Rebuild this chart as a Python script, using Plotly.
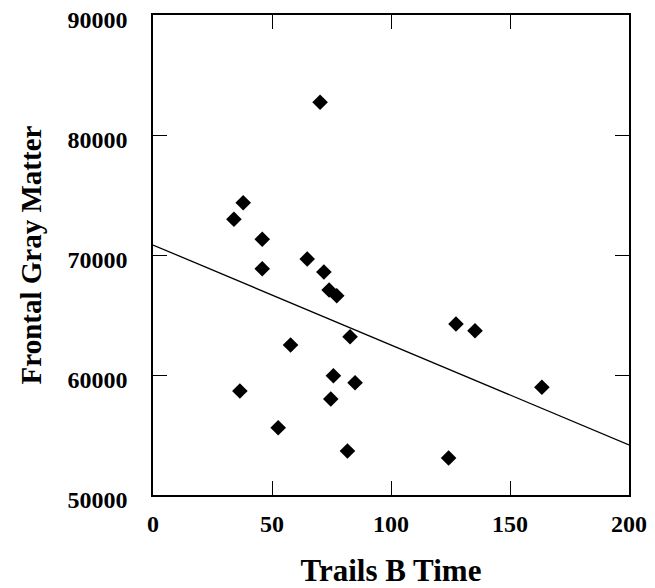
import plotly.graph_objects as go

trails_b_time = [70.2, 37.9, 34.0, 45.9, 64.8, 45.9, 71.8, 74.0, 77.2, 82.8, 57.8,
                 75.8, 84.9, 36.5, 74.7, 52.6, 81.7, 127.3, 135.3, 163.4, 124.2]
frontal_gray = [82725, 74358, 72975, 71308, 69667, 68850, 68580, 67083, 66608, 63192, 62500,
                59942, 59358, 58667, 58000, 55608, 53667, 64250, 63692, 58975, 53083]

fit_x = [0, 200]
fit_intercept = 70833
fit_slope = -83.3

x_ticks = [0, 50, 100, 150, 200]
y_ticks = [50000, 60000, 70000, 80000, 90000]

font_family = "Liberation Serif, Times New Roman, serif"

fig = go.Figure()
fig.add_trace(go.Scatter(
    x=fit_x, y=[fit_intercept + fit_slope * v for v in fit_x],
    mode="lines", line=dict(color="black", width=1.3), showlegend=False,
    cliponaxis=False,
))
fig.add_trace(go.Scatter(
    x=trails_b_time, y=frontal_gray, mode="markers",
    marker=dict(symbol="diamond", color="black", size=12, line=dict(width=0)),
    showlegend=False,
))

axis_common = dict(
    showgrid=False, zeroline=False, showline=True, linecolor="black", linewidth=1.5,
    mirror="ticks", ticks="inside", ticklen=14, tickwidth=1.3, tickcolor="black",
    automargin=False, ticklabeloverflow="allow",
    tickfont=dict(family=font_family, size=24, color="black", weight="bold"),
)
fig.update_xaxes(range=[0, 200], tickvals=x_ticks, ticktext=[str(v) for v in x_ticks],
                 ticklabelstandoff=6,
                 title=dict(text="<b>Trails B Time</b>", standoff=39,
                            font=dict(family=font_family, size=31, color="black")),
                 **axis_common)
fig.update_yaxes(range=[50000, 90000], tickvals=y_ticks, ticktext=[str(v) for v in y_ticks],
                 ticklabelstandoff=19, ticklabelshift=5,
                 title=dict(text="<b>Frontal Gray Matter</b>", standoff=17,
                            font=dict(family=font_family, size=29, color="black")),
                 **axis_common)

fig.update_layout(
    width=647, height=580,
    margin=dict(l=145, r=26, t=7, b=93),
    plot_bgcolor="white", paper_bgcolor="white",
)
fig.write_html("out.html")
